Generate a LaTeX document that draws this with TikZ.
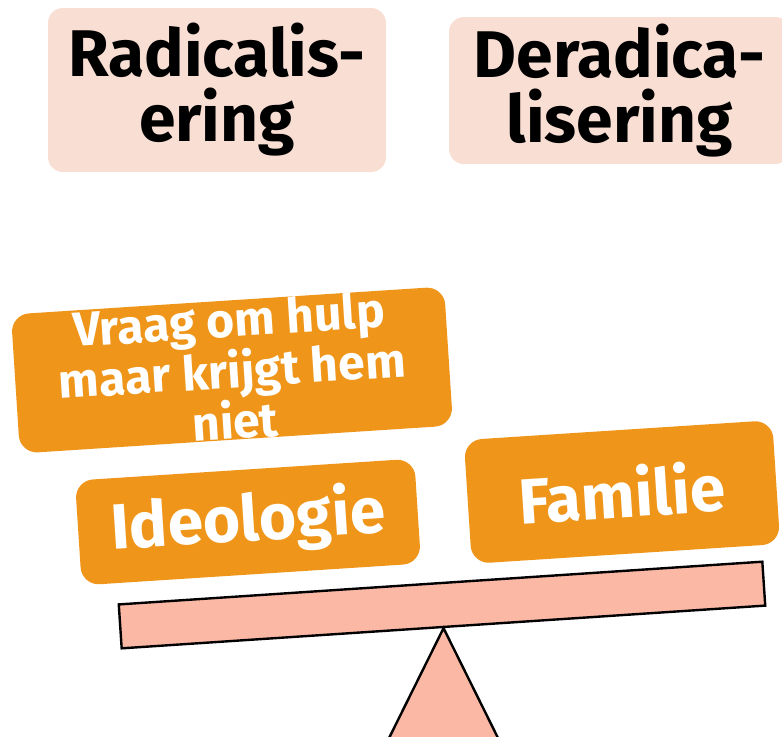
\documentclass[tikz,border=0pt]{standalone}
\usepackage{fontspec}
\setmainfont{Fira Sans}
\definecolor{peach}{RGB}{249,222,211}
\definecolor{oranje}{RGB}{239,150,26}
\definecolor{zalm}{RGB}{251,185,165}
\begin{document}
\begin{tikzpicture}[x=0.5pt,y=-0.5pt,kop/.style={shape=rectangle,rounded corners=7.5pt,fill=peach,align=center,inner sep=0pt,font=\bfseries\fontsize{33}{32.5}\selectfont},factor/.style={shape=rectangle,rounded corners=9pt,fill=oranje,text=white,align=center,inner sep=0pt,rotate=3.7},factorL/.style={factor,font=\bfseries\fontsize{32}{33}\selectfont},factorS/.style={factor,font=\bfseries\fontsize{24}{25.5}\selectfont},balk/.style={shape=rectangle,draw=black,line width=1.2pt,fill=zalm,inner sep=0pt,rotate=3.8}]
\clip (0,0) rectangle (782,736);

\node[kop,minimum width=169pt,minimum height=82pt] (R) at (217,90) {Radicalis-\\ering};
\node[kop,minimum width=170.5pt,minimum height=73.5pt] (D) at (619.5,90.5) {Deradica-\\lisering};

\node[factorS,minimum width=217pt,minimum height=69.5pt] (V) at (232,370) {Vraag om hulp\\maar krijgt hem\\niet};
\node[factorL,minimum width=170pt,minimum height=52.5pt] (I) at (248,522) {Ideologie};
\node[factorL,minimum width=154.5pt,minimum height=62pt] (F) at (622,492) {Familie};

\node[balk,minimum width=322.5pt,minimum height=22pt] (B) at (442,605) {};
\draw[line width=1.2pt,fill=zalm] (B.south) -- ++(-60,121) -- ++(120,0) -- cycle;
\end{tikzpicture}
\end{document}
